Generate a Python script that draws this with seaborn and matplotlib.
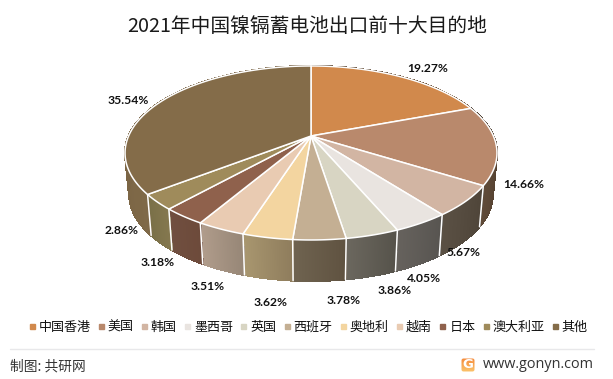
import numpy as np
import matplotlib
matplotlib.use("Agg")
import matplotlib.pyplot as plt
from matplotlib.collections import PolyCollection
from matplotlib.lines import Line2D
from matplotlib.patches import FancyBboxPatch
from matplotlib.colors import to_rgb
import seaborn as sns

# ---- data ----
categories = ["中国香港", "美国", "韩国", "墨西哥", "英国", "西班牙", "奥地利", "越南", "日本", "澳大利亚", "其他"]
values = [19.27, 14.66, 5.67, 4.05, 3.86, 3.78, 3.62, 3.51, 3.18, 2.86, 35.54]
title = "2021年中国镍镉蓄电池出口前十大目的地"

# ---- style ----
top_colors = ["#D1894C", "#B9896C", "#D2B5A3", "#E9E4E0", "#D8D5C3", "#C4AF93",
              "#F3D5A0", "#E9CBB2", "#8F614C", "#9F8B5B", "#846C49"]
wall_left = ["#6b4a2c", "#5f4a38", "#5a5044", "#66625d", "#6b675e", "#6f6350",
             "#a8966f", "#b09c8b", "#704f40", "#7a7048", "#705a3c"]
wall_right = ["#4a3522", "#3f3022", "#4e4438", "#575450", "#55524a", "#5f5240",
              "#8e7c5c", "#968676", "#6d4a3a", "#85784f", "#7f6948"]
label_xy = [(427.5, 69), (524, 184), (463.5, 252), (423.5, 278), (394.5, 291), (344, 300),
            (271, 303), (207.5, 286), (158, 262), (122, 231), (128.5, 101)]

sns.set_theme(style="white")
plt.rcParams["font.family"] = ["Noto Sans CJK SC", "DejaVu Sans"]
palette = sns.color_palette(top_colors)

# perspective projection of the pie disc
HUB_X, HUB_Y, A, B, K = 311.0, 136.0, 182.4, 83.7, 0.195
DEPTH, SHRINK = 41.0, 0.978


def project(theta, r=1.0, bottom=False):
    u, v = r * np.sin(theta), -r * np.cos(theta)
    w = 1 - K * v
    if bottom:
        return HUB_X + SHRINK * A * u / w, HUB_Y + DEPTH + B * v / w
    return HUB_X + A * u / w, HUB_Y + B * v / w


fig = plt.figure(figsize=(6.13, 3.79), dpi=100)
ax = fig.add_axes([0, 0, 1, 1])

edges = np.cumsum([0] + values) / sum(values) * 2 * np.pi

# side walls
for i, cat in enumerate(categories):
    t = np.linspace(edges[i], edges[i + 1], 80)
    xt, yt = project(t)
    xb, yb = project(t, bottom=True)
    c0, c1 = np.array(to_rgb(wall_left[i])), np.array(to_rgb(wall_right[i]))
    polys, cols = [], []
    for j in range(len(t) - 1):
        polys.append([(xt[j], yt[j]), (xt[j + 1], yt[j + 1]), (xb[j + 1], yb[j + 1]), (xb[j], yb[j])])
        f = (j + 0.5) / (len(t) - 1)
        # the first colour sits at the slice's end on the viewer's left
        cols.append(c1 * (1 - f) + c0 * f)
    ax.add_collection(PolyCollection(polys, facecolors=cols, edgecolors=cols, linewidths=0.8,
                                     antialiaseds=False, zorder=2))

# wall separators, only for edges on the viewer's side
for e in edges[:-1]:
    if -np.cos(e) > -0.1:
        x0, y0 = project(e)
        x1, y1 = project(e, bottom=True)
        ax.plot([x0, x1], [y0, y1], color="white", lw=1.1, zorder=3)

# top face
for i, cat in enumerate(categories):
    t = np.linspace(edges[i], edges[i + 1], 120)
    xt, yt = project(t)
    ax.fill(np.r_[HUB_X, xt], np.r_[HUB_Y, yt], facecolor=palette[i], edgecolor="white",
            lw=1.1, joinstyle="round", zorder=4)

# value labels
for v, (x, y) in zip(values, label_xy):
    ax.text(x, y, f"{v:.2f}%", ha="center", va="center", fontsize=8.7, fontweight="bold",
            family=["Lato", "DejaVu Sans"], color="#111111", zorder=6)

ax.text(307.5, 27, title, ha="center", va="center", fontsize=14.2, color="#1a1a1a")

# legend
handles = [Line2D([], [], ls="", marker="s", ms=3.6, color=c, label=n) for c, n in zip(palette, categories)]
leg = ax.legend(handles=handles, ncol=11, loc="center", bbox_to_anchor=(308.5 / 613, 1 - 327 / 379),
                bbox_transform=ax.transAxes, frameon=False, fontsize=9.4, handlelength=0.35,
                handletextpad=0.35, columnspacing=0.62, borderpad=0, borderaxespad=0)
for txt in leg.get_texts():
    txt.set_color("#111111")

# footer
ax.plot([10, 594], [349, 349], color="#e8e8ea", lw=1)
ax.text(10, 366.5, "制图: 共研网", ha="left", va="center", fontsize=9.9, color="#333333", fontweight="medium")
ax.text(594, 364, "www.gonyn.com", ha="right", va="center", fontsize=10.4, color="#333333",
        family=["Open Sans", "DejaVu Sans"])

# logo
grad = np.linspace(0, 1, 32)[:, None]
im = ax.imshow(grad, extent=(461, 475, 372, 358), cmap=matplotlib.colors.LinearSegmentedColormap.from_list(
    "logo", ["#F58A3A", "#FBC46C"]), aspect="auto", zorder=2)
clip = FancyBboxPatch((461.5, 358.5), 13, 13, boxstyle="round,pad=0,rounding_size=2", transform=ax.transData,
                      facecolor="none", edgecolor="none")
ax.add_patch(clip)
im.set_clip_path(clip)
ax.text(468, 365, "G", ha="center", va="center", color="white", fontsize=9.5, fontweight="bold",
        family=["DejaVu Sans"], zorder=3)

ax.set_xlim(0, 613)
ax.set_ylim(379, 0)
ax.axis("off")
fig.savefig("out.png", dpi=100, facecolor="white")
